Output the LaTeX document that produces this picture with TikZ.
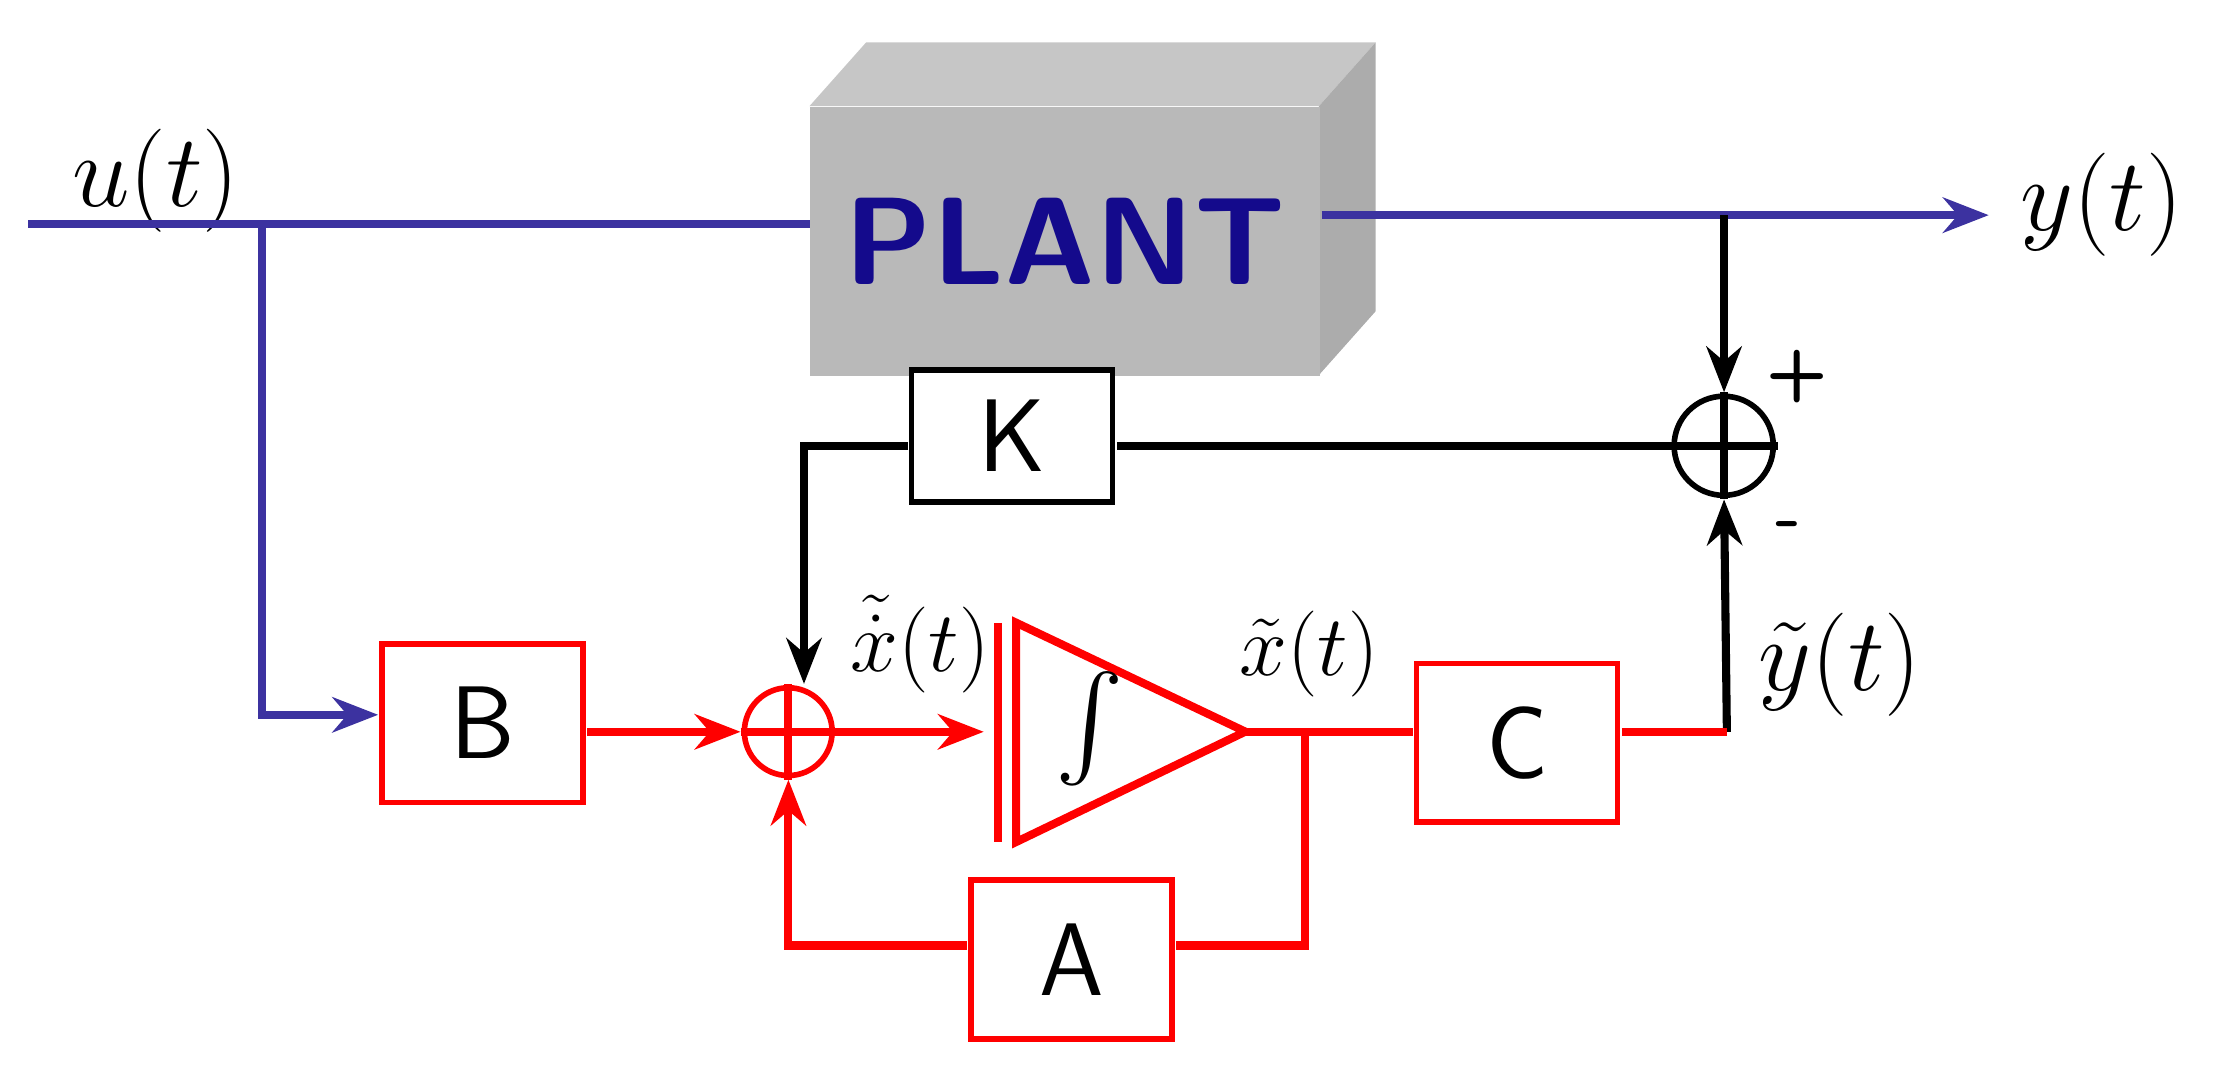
\documentclass[tikz,border=0pt]{standalone}
\usepackage{amsmath}
\usetikzlibrary{arrows.meta}
\begin{document}
\begin{tikzpicture}[x=0.01cm,y=-0.01cm,scale=1.415,every node/.append style={transform shape},
  blu/.style={draw={rgb,255:red,60;green,50;blue,160}, line width=2.3pt},
  rd/.style={draw=red, line width=2.3pt},
  bk/.style={draw=black, line width=2.3pt},
  arr/.style={-{Stealth[length=13pt,width=10pt]}},
  box/.style={draw=red, line width=1.6pt, fill=white, minimum width=1.42cm, minimum height=1.12cm, font=\sffamily\huge, inner sep=0pt},
  summ/.style={circle, minimum size=0.62cm, inner sep=0pt, line width=1.6pt},
  lab/.style={font=\huge}]
\useasboundingbox (0,0) rectangle (1568,764);
% plant
\fill[gray!45] (572,75) -- (612,30) -- (972,30) -- (932,75) -- cycle;
\fill[gray!65] (932,75) -- (972,30) -- (972,220) -- (932,265) -- cycle;
\node[fill=gray!55, minimum width=3.6cm, minimum height=1.9cm, text width=3.4cm, align=center, inner sep=0pt, anchor=north west, font=\sffamily\bfseries\fontsize{25}{28}\selectfont, text={rgb,255:red,20;green,10;blue,140}] (plant) at (572,75) {PLANT};
% coordinates
\coordinate (uin) at (20,158);
\coordinate (ubr) at (185,158);
\coordinate (ubd) at (185,505);
\coordinate (yout) at (1405,152);
\coordinate (ybr) at (1218,152);
\node[lab] (ul) at (110,128) {$u(t)$};
\node[lab, anchor=west] (yl) at (1415,145) {$y(t)$};
% sum top
\node[summ, draw=black, minimum size=0.7cm] (s1) at (1218,315) {};
\draw[bk] (s1.north) -- (s1.south) (s1.west) -- (s1.east);
\node[font=\Large\sffamily\bfseries] (plus) at (1270,266) {+};
\node[font=\Large\sffamily\bfseries] (minus) at (1264,375) {-};
% K
\node[box, draw=black, minimum height=0.93cm] (K) at (715,308) {K};
% B, C, A
\node[box] (B) at (341,511) {B};
\node[box] (C) at (1072,525) {C};
\node[box] (A) at (757,678) {A};
% sum 2
\node[summ, draw=red] (s2) at (557,517) {};
\draw[rd] (s2.north) -- (s2.south) (s2.west) -- (s2.east);
% integrator
\coordinate (ivt) at (705,440);
\coordinate (ivb) at (705,595);
\draw[rd] (ivt) -- (ivb);
\draw[rd] (718,440) -- (880,517) -- (718,595) -- cycle;
\coordinate (iin) at (695,517);
\coordinate (iout) at (880,517);
\node[font=\huge] (int) at (770,515) {$\int$};
\node[font=\LARGE] (xdl) at (650,455) {$\tilde{\dot{x}}(t)$};
\node[font=\LARGE] (xl) at (925,462) {$\tilde{x}(t)$};
\node[lab] (ytl) at (1300,470) {$\tilde{y}(t)$};
\coordinate (xbr) at (922,517);
\coordinate (xbd) at (922,668);
\coordinate (abl) at (557,668);
\coordinate (cbr) at (1220,517);
\coordinate (kbl) at (568,315);
% connectors blue
\draw[blu] (uin) -- (plant.west |- uin);
\draw[blu,arr] (plant.east |- yout) -- (yout);
\draw[blu,arr] (ubr) -- (ubd) -- (B.west |- ubd);
% black
\draw[bk,arr] (ybr) -- (s1.north);
\draw[bk] (s1.west) -- (K.east |- s1);
\draw[bk,arr] (K.west |- kbl) -- (kbl) -- (kbl |- s2.north);
\draw[bk,arr] (cbr) -- (s1.south);
% red
\draw[rd,arr] (B.east |- s2) -- (s2.west);
\draw[rd,arr] (s2.east) -- (iin);
\draw[rd] (iout) -- (C.west |- iout);
\draw[rd] (C.east |- cbr) -- (cbr);
\draw[rd] (xbr) -- (xbd) -- (A.east |- xbd);
\draw[rd,arr] (A.west |- abl) -- (abl) -- (s2.south);
\end{tikzpicture}
\end{document}
